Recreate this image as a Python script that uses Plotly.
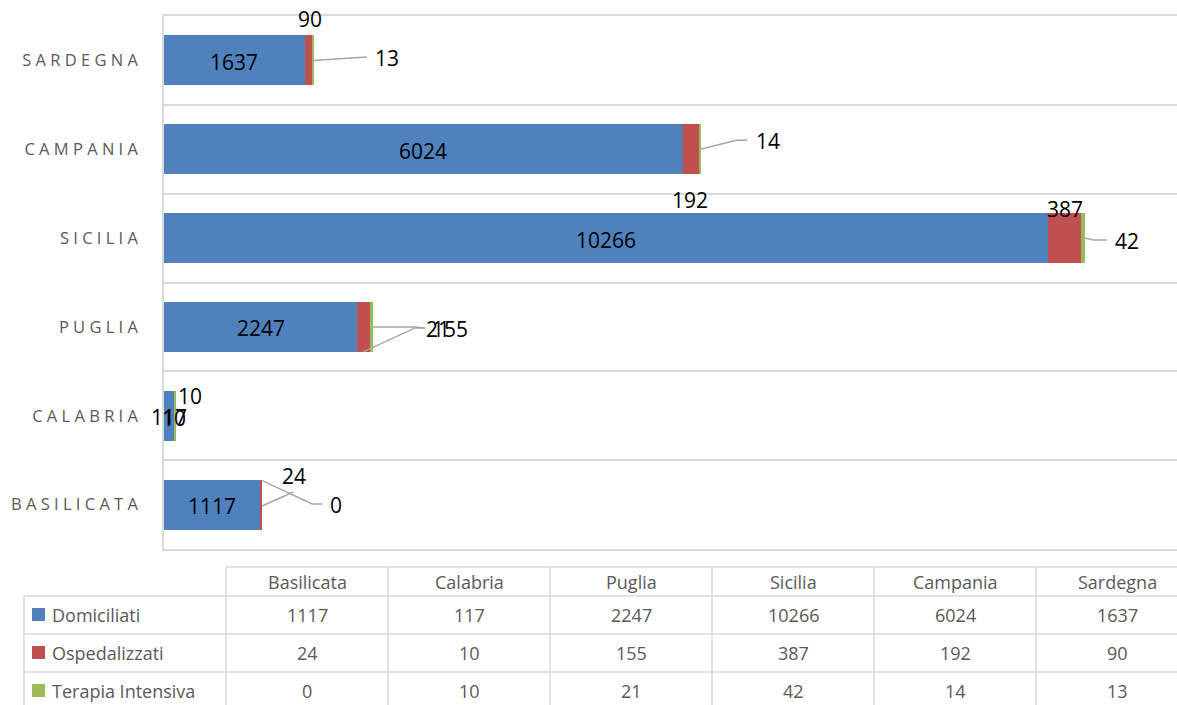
import plotly.graph_objects as go

# ---------------- data ----------------
regions = ["Basilicata", "Calabria", "Puglia", "Sicilia", "Campania", "Sardegna"]
series_names = ["Domiciliati", "Ospedalizzati", "Terapia Intensiva"]
domiciliati = [1117, 117, 2247, 10266, 6024, 1637]
ospedalizzati = [24, 10, 155, 387, 192, 90]
terapia_intensiva = [0, 10, 21, 42, 14, 13]
axis_max = 12000

series_values = [domiciliati, ospedalizzati, terapia_intensiva]

# ---------------- style ----------------
colors = ["#4F81BD", "#C0504D", "#9BBB59"]
GRID = "#D9D9D9"
TEXT_GRAY = "#595959"
LEADER = "#A6A6A6"
FONT = "Open Sans"
LABEL_SIZE = 21
TABLE_SIZE = 18

W, H = 1177, 705
ML, MT, MB = 164, 16, 156
PW, PH = W - ML, H - MT - MB
FULL_AXIS_PX = 1033          # the 0..axis_max axis is cropped on the right
x_max = axis_max * PW / FULL_AXIS_PX
PXU = PW / x_max             # pixels per unit
PXC = PH / len(regions)      # pixels per category
BAR_PX = 50

ypos = list(range(len(regions)))

fig = go.Figure()
for name, vals, col in zip(series_names, series_values, colors):
    fig.add_trace(go.Bar(
        y=ypos, x=vals, name=name, orientation="h",
        marker=dict(color=col, line=dict(width=0)),
        width=BAR_PX / PXC, showlegend=False,
        hovertemplate="%{x}<extra>" + name + "</extra>",
    ))

# ---------------- data labels ----------------
red_center = [d + o / 2 for d, o in zip(domiciliati, ospedalizzati)]
totals = [d + o + t for d, o, t in zip(domiciliati, ospedalizzati, terapia_intensiva)]

# pixel offsets (dx right, dy down) of each label from its anchor
blue_dy = 1.5
red_label_off = [(33, -28.6), (15.5, -19.5), (86, 2.5), (1, -29.5), (-1, 50.5), (1, -41.5)]
green_label_off = [(74, 0), (-2, 2), (65.5, 2.5), (42, 3.3), (67.7, -7.8), (73, -2)]

annotations = []
def add_label(xv, yv, text, dx, dy):
    annotations.append(dict(
        x=xv, y=yv, xref="x", yref="y", text=str(text), showarrow=False,
        xanchor="center", yanchor="middle", xshift=dx, yshift=-dy,
        font=dict(family=FONT, size=LABEL_SIZE, color="black"),
    ))

for i in ypos:
    add_label(domiciliati[i] / 2, i, domiciliati[i], 0, blue_dy)
    add_label(red_center[i], i, ospedalizzati[i], *red_label_off[i])
    add_label(totals[i], i, terapia_intensiva[i], *green_label_off[i])

# leader lines: (anchor kind, category index, pixel points relative to anchor)
leaders = [
    ("total", 5, [(-1, 0), (44, -3.4), (53, -3.4)]),
    ("total", 4, [(0, 0), (36, -9), (47, -9)]),
    ("total", 3, [(0, 0), (9, 2), (22, 2)]),
    ("total", 2, [(0, 0), (42, 0), (52, 1)]),
    ("red", 2, [(-1, 25), (51, 1), (61, 1)]),
    ("total", 0, [(0, -24), (50, -0.6), (60, -0.6)]),
    ("red", 0, [(1, 1.4), (32, -12.6)]),
]
for kind, i, pts in leaders:
    ax = totals[i] if kind == "total" else red_center[i]
    fig.add_trace(go.Scatter(
        x=[ax + dx / PXU for dx, dy in pts],
        y=[i - dy / PXC for dx, dy in pts],
        mode="lines", line=dict(color=LEADER, width=1.5),
        hoverinfo="skip", showlegend=False, cliponaxis=False,
    ))

# ---------------- data table (below the plot) ----------------
def px_x(px):
    return (px - ML) / PW

def px_y(py):
    return (H - MB - py) / PH

shapes = []
def hline(x0, x1, y):
    shapes.append(dict(type="line", xref="paper", yref="paper",
                       x0=px_x(x0), x1=px_x(x1), y0=px_y(y), y1=px_y(y),
                       line=dict(color=GRID, width=1.5)))

def vline(x, y0, y1):
    shapes.append(dict(type="line", xref="paper", yref="paper",
                       x0=px_x(x), x1=px_x(x), y0=px_y(y0), y1=px_y(y1),
                       line=dict(color=GRID, width=1.5)))

col_left, col_w = 226, 162
col_edges = [col_left + col_w * k for k in range(len(regions) + 1)]
legend_left = 24
header_top = 567
row_lines = [596, 634, 672]
table_bottom = 712

hline(col_left, col_edges[-1], header_top)
for y in row_lines:
    hline(legend_left, col_edges[-1], y)
vline(legend_left, row_lines[0], table_bottom)
for x in col_edges:
    vline(x, header_top, table_bottom)

def table_text(px, py, text, anchor="center"):
    annotations.append(dict(
        x=px_x(px), y=px_y(py), xref="paper", yref="paper", text=str(text),
        showarrow=False, xanchor=anchor, yanchor="middle",
        font=dict(family=FONT, size=TABLE_SIZE, color=TEXT_GRAY),
    ))

header_y = (header_top + row_lines[0]) / 2
row_centers = [(row_lines[0] + row_lines[1]) / 2 - 0.5, (row_lines[1] + row_lines[2]) / 2 - 0.5,
               (row_lines[2] + row_lines[2] + 38) / 2 - 0.5]
for k, reg in enumerate(regions):
    cx = (col_edges[k] + col_edges[k + 1]) / 2
    table_text(cx, header_y, reg)
    for r, vals in enumerate(series_values):
        table_text(cx, row_centers[r], vals[k])

for r, (name, col) in enumerate(zip(series_names, colors)):
    cy = row_centers[r]
    shapes.append(dict(type="rect", xref="paper", yref="paper",
                       x0=px_x(32), x1=px_x(45), y0=px_y(cy - 6.5), y1=px_y(cy + 6.5),
                       fillcolor=col, line=dict(width=0)))
    table_text(50, cy, name, anchor="left")

# ---------------- layout ----------------
spaced = [" ".join(r.upper()) for r in regions]

fig.update_layout(
    width=W, height=H,
    margin=dict(l=ML, r=0, t=MT, b=MB, pad=0),
    barmode="stack", bargap=0,
    plot_bgcolor="white", paper_bgcolor="white",
    font=dict(family=FONT, color=TEXT_GRAY),
    xaxis=dict(range=[0, x_max], showgrid=False, zeroline=False,
               showticklabels=False, ticks="",
               showline=True, mirror=True, linecolor=GRID, linewidth=1.5),
    yaxis=dict(range=[-0.5, len(regions) - 0.5], tickvals=ypos, ticktext=spaced,
               showgrid=False, zeroline=False, ticks="",
               showline=True, linecolor=GRID, linewidth=1.5,
               ticklabelstandoff=21,
               tickfont=dict(family=FONT, size=16.5, color=TEXT_GRAY),
               minor=dict(tickvals=[i + 0.5 for i in ypos[:-1]], showgrid=True,
                          gridcolor=GRID, gridwidth=1.5, ticks="")),
    shapes=shapes,
    annotations=annotations,
    showlegend=False,
)

fig.write_html(
    "out.html",
    config={"displayModeBar": False},
    post_script="document.body.style.margin='0';document.body.style.overflow='hidden';",
)
